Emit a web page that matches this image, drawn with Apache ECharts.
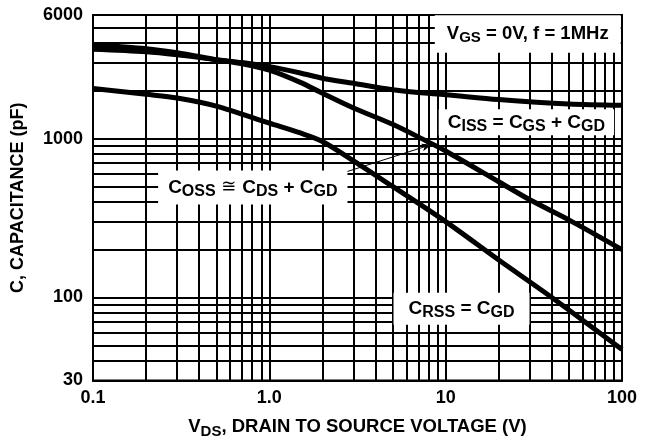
<!DOCTYPE html>
<html>
<head>
<meta charset="utf-8">
<script src="https://cdn.jsdelivr.net/npm/echarts@6/dist/echarts.min.js"></script>
<style>
html, body { margin: 0; padding: 0; background: #fff; }
#container { width: 651px; height: 444px; }
</style>
</head>
<body>
<div id="container"></div>
<script>
// values (VDS in V, C in pF)
var cissV = [0.1, 0.2, 0.3, 0.5, 0.7, 1, 1.5, 2, 3, 5, 7, 10, 20, 50, 100];
var cissC = [3650, 3520, 3370, 3140, 3010, 2840, 2590, 2400, 2230, 2030, 1950, 1890, 1760, 1650, 1620];
var cossV = [0.1, 0.2, 0.3, 0.5, 0.7, 1, 1.5, 2, 3, 5, 8, 10, 20, 30, 50, 100];
var cossC = [3900, 3680, 3470, 3140, 2960, 2700, 2260, 1930, 1560, 1230, 950, 836, 535, 412, 308, 200];
var crssV = [0.1, 0.2, 0.3, 0.5, 1, 1.5, 2, 3, 5, 10, 20, 40, 100];
var crssC = [2070, 1900, 1800, 1600, 1250, 1085, 960, 725, 500, 300, 172, 100, 47];

// tick labels
var xTicks = [0.1, 1, 10, 100];
var yTicks = [30, 100, 1000, 6000];

// grid lines (log paper)
var xGrid = [0.2, 0.3, 0.4, 0.5, 0.6, 0.7, 0.8, 0.9, 1, 2, 3, 4, 5, 6, 7, 8, 9, 10, 20, 30, 40, 50, 60, 70, 80, 90];
var yGrid = [40, 50, 60, 70, 80, 90, 100, 200, 300, 400, 500, 600, 700, 800, 900, 1000, 2000, 3000, 4000, 5000];

function pairs(xs, ys) {
    var out = [];
    for (var i = 0; i < xs.length; i++) {
        out.push([xs[i], ys[i]]);
    }
    return out;
}

var gridLines = [];
for (var i = 0; i < xGrid.length; i++) gridLines.push({ xAxis: xGrid[i] });
for (var j = 0; j < yGrid.length; j++) gridLines.push({ yAxis: yGrid[j] });

var fnt = '"Liberation Sans", Arial, Helvetica, sans-serif';
function makeRich(big, small) {
    return {
        m: { fontSize: big, fontWeight: 'bold', fontFamily: fnt, color: '#000', lineHeight: big + 5, verticalAlign: 'middle' },
        s: { fontSize: small, fontWeight: 'bold', fontFamily: fnt, color: '#000', lineHeight: small, verticalAlign: 'bottom' },
        e: { fontSize: big - 1, fontFamily: '"DejaVu Sans", sans-serif', color: '#000', lineHeight: big + 5, verticalAlign: 'middle' }
    };
}
var richLbl = makeRich(19, 16);
var richTop = makeRich(18.5, 15);
var richAx = makeRich(18.5, 15);

function boxLabel(txt, pad, r) {
    return {
        show: true,
        position: 'inside',
        formatter: txt,
        backgroundColor: '#fff',
        padding: pad,
        rich: r || richLbl
    };
}

function curve(name, xs, ys) {
    return {
        name: name,
        type: 'line',
        z: 3,
        smooth: 0.3,
        showSymbol: false,
        lineStyle: { color: '#000', width: 5 },
        data: pairs(xs, ys)
    };
}

var dom = document.getElementById('container');
var myChart = echarts.init(dom);
var option = {
    animation: false,
    backgroundColor: '#fff',
    grid: {
        left: 93, right: 29, top: 15, bottom: 60,
        show: true,
        borderColor: '#000',
        borderWidth: 2
    },
    xAxis: {
        type: 'log',
        logBase: 10,
        min: 0.1,
        max: 100,
        name: '{m|V}{s|DS}{m|, DRAIN TO SOURCE VOLTAGE (V)}',
        nameLocation: 'middle',
        nameGap: 35,
        nameTextStyle: { rich: richAx },
        axisLine: { show: true, lineStyle: { color: '#000', width: 2 } },
        axisTick: { show: false },
        splitLine: { show: false },
        axisLabel: {
            customValues: xTicks,
            margin: 9,
            color: '#000',
            fontSize: 18,
            fontWeight: 'bold',
            fontFamily: fnt,
            formatter: function (v) { return v == 1 ? '1.0' : String(v); }
        }
    },
    yAxis: {
        type: 'log',
        logBase: 10,
        min: 30,
        max: 6000,
        name: 'C, CAPACITANCE (pF)',
        nameLocation: 'middle',
        nameGap: 66,
        nameTextStyle: { color: '#000', fontSize: 18, fontWeight: 'bold', fontFamily: fnt },
        axisLine: { show: true, lineStyle: { color: '#000', width: 2 } },
        axisTick: { show: false },
        splitLine: { show: false },
        axisLabel: {
            customValues: yTicks,
            margin: 10,
            color: '#000',
            fontSize: 18,
            fontWeight: 'bold',
            fontFamily: fnt,
            formatter: function (v) { return String(Math.round(v)); }
        }
    },
    series: [
        {
            // grid lines
            type: 'line',
            data: [],
            z: 1,
            silent: true,
            markLine: {
                silent: true,
                symbol: ['none', 'none'],
                label: { show: false },
                lineStyle: { color: '#000', width: 2, type: 'solid' },
                data: gridLines
            }
        },
        {
            // label boxes and arrow
            type: 'line',
            data: [],
            z: 2,
            silent: true,
            markPoint: {
                symbol: 'rect',
                symbolSize: 0,
                data: [
                    { coord: [29.2, 4552], label: boxLabel('{m|V}{s|GS}{m| = 0V, f = 1MHz}', [7, 12, 7, 12], richTop) },
                    { coord: [28.7, 1266], label: boxLabel('{m|C}{s|ISS}{m| = C}{s|GS}{m| + C}{s|GD}', [1, 9, 1, 9]) },
                    { coord: [0.806, 493], label: boxLabel('{m|C}{s|OSS}{e| ≅ }{m|C}{s|DS}{m| + C}{s|GD}', [5, 10, 5, 10]) },
                    { coord: [12.3, 84.8], label: boxLabel('{m|C}{s|RSS}{m| = C}{s|GD}', [4, 15, 4, 15]) }
                ]
            },
            markLine: {
                silent: true,
                symbol: ['none', 'arrow'],
                symbolSize: [6, 10],
                label: { show: false },
                lineStyle: { color: '#000', width: 1, type: 'solid' },
                data: [[{ coord: [2.70, 615] }, { coord: [8.32, 918] }]]
            }
        },
        curve('Ciss', cissV, cissC),
        curve('Coss', cossV, cossC),
        curve('Crss', crssV, crssC)
    ]
};
myChart.setOption(option);
</script>
</body>
</html>
